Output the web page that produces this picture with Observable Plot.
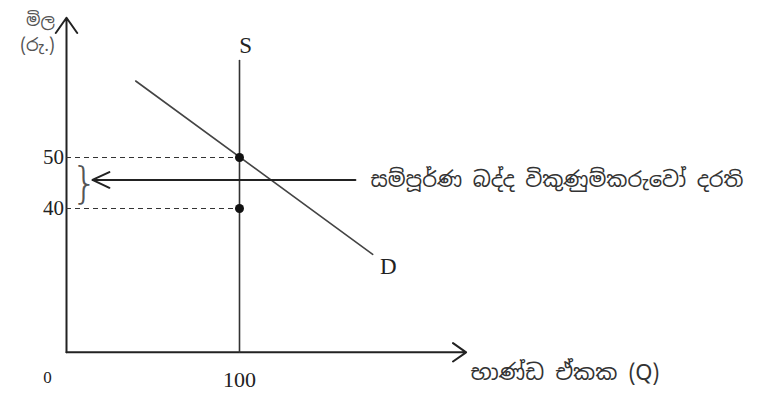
<!DOCTYPE html>
<html>
<head>
<meta charset="utf-8">
<script src="https://cdn.jsdelivr.net/npm/d3@7"></script>
<script src="https://cdn.jsdelivr.net/npm/@observablehq/plot@0.6"></script>
<style>
  html, body { margin: 0; padding: 0; background: #fff; }
  #chart svg { display: block; }
</style>
</head>
<body>
<div id="chart"></div>
<script>
// ---- data ----
const priceLevels = [50, 40];          // equilibrium price with tax / before
const quantity = 100;                  // fixed supply quantity
const supplyLine = [{q: 100, p: 69}, {q: 100, p: 11.8}];
const demandLine = [{q: 40, p: 65}, {q: 177, p: 31}];
const axisBase = 11.8;                 // price level where the Q axis is drawn
const axisTopP = 77.4;
const axisEndQ = 231;
const yTickLabels = ["50", "40"];
const xTickLabels = ["0", "100"];
const yTitle = ["මිල", "(රු.)"];
const xTitle = "භාණ්ඩ ඒකක (Q)";
const noteText = "සම්පූර්ණ බද්ද විකුණුම්කරුවෝ දරති";
const noteP = 45.6;

const serif = "'Liberation Serif', 'DejaVu Serif', serif";
const sinhala = "'Noto Sans Sinhala', 'Noto Serif Sinhala', 'Iskoola Pota', 'Noto Sans', sans-serif";

const plot = Plot.plot({
  width: 762,
  height: 394,
  margin: 0,
  x: {domain: [-66 / 1.73, (762 - 66) / 1.73], axis: null},
  y: {domain: [50 - 237 / 5.1, 50 + 157 / 5.1], axis: null},
  style: {background: "#fff", color: "#222"},
  marks: [
    // axes
    Plot.arrow([{x1: 0, y1: axisBase, x2: 0, y2: axisTopP}], {
      x1: "x1", y1: "y1", x2: "x2", y2: "y2",
      stroke: "#222", strokeWidth: 2, headLength: 14, headAngle: 70
    }),
    Plot.arrow([{x1: 0, y1: axisBase, x2: axisEndQ, y2: axisBase}], {
      x1: "x1", y1: "y1", x2: "x2", y2: "y2",
      stroke: "#222", strokeWidth: 2, headLength: 12, headAngle: 70
    }),
    // dashed price guides
    Plot.ruleY(priceLevels, {
      y: d => d, x1: 0, x2: quantity,
      stroke: "#333", strokeWidth: 1.2, strokeDasharray: "5,4"
    }),
    // supply
    Plot.line(supplyLine, {x: "q", y: "p", stroke: "#333", strokeWidth: 1.6}),
    // demand
    Plot.line(demandLine, {x: "q", y: "p", stroke: "#444", strokeWidth: 1.6}),
    // points
    Plot.dot(priceLevels, {x: quantity, y: d => d, r: 4.5, fill: "#111", stroke: "none"}),
    // note arrow
    Plot.arrow([{x1: 167, y1: noteP, x2: 15, y2: noteP}], {
      x1: "x1", y1: "y1", x2: "x2", y2: "y2",
      stroke: "#222", strokeWidth: 2, headLength: 14, headAngle: 50
    }),
    // brace
    Plot.text(["}"], {x: 10.5, y: 44.6, fontSize: 42, fontWeight: 200, fill: "#555",
      fontFamily: "'DejaVu Sans', sans-serif"}),
    // tick labels
    Plot.text(yTickLabels, {x: -1.5, y: d => +d, text: d => d, textAnchor: "end",
      fontSize: 21, fontFamily: serif, fill: "#222"}),
    Plot.text([xTickLabels[0]], {x: -11, y: 6.9, text: d => d, fontSize: 17, fontFamily: serif, fill: "#222"}),
    Plot.text([xTickLabels[1]], {x: quantity, y: 6.3, text: d => d, fontSize: 22, fontFamily: serif, fill: "#222"}),
    // curve labels
    Plot.text(["S"], {x: 103.5, y: 72, text: d => d, fontSize: 23, fontFamily: serif, fill: "#222"}),
    Plot.text(["D"], {x: 186, y: 28.6, text: d => d, fontSize: 23, fontFamily: serif, fill: "#222"}),
    // titles
    Plot.text([yTitle[0]], {x: -15, y: 76.9, text: d => d, fontSize: 17, fontFamily: sinhala, fill: "#555"}),
    Plot.text([yTitle[1]], {x: -16.8, y: 72, text: d => d, fontSize: 18, fontFamily: sinhala, fill: "#555"}),
    Plot.text([xTitle], {x: 233.5, y: 7.8, text: d => d, textAnchor: "start", fontSize: 22, fontFamily: sinhala, fill: "#333"}),
    Plot.text([noteText], {x: 175.7, y: 45.5, text: d => d, textAnchor: "start", fontSize: 21, fontFamily: sinhala, fill: "#333"})
  ]
});
document.getElementById("chart").appendChild(plot);
</script>
</body>
</html>
